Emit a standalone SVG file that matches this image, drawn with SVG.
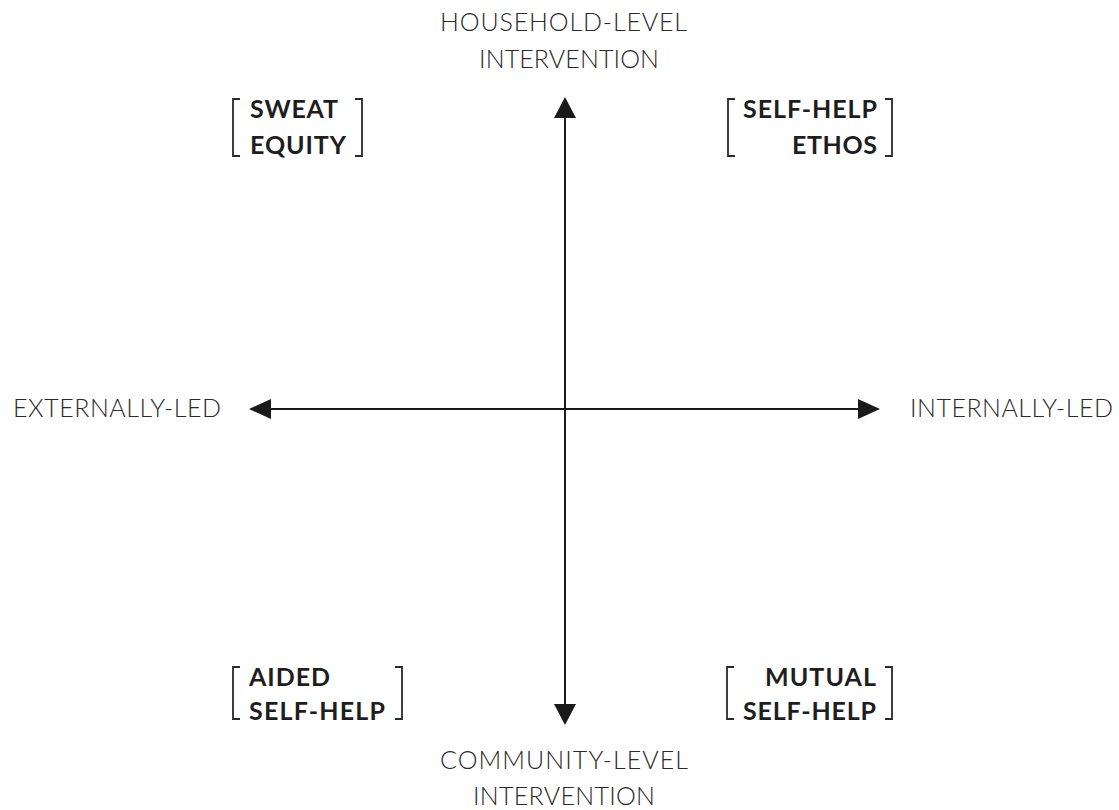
<svg xmlns="http://www.w3.org/2000/svg" width="1119" height="810" viewBox="0 0 1119 810">
  <style>
    .axis { stroke: #1a1a1a; stroke-width: 2; fill: none; }
    .head { fill: #1a1a1a; }
    .axis-label { font-family: Lato, "Open Sans", sans-serif; font-weight: 300; font-size: 25px; fill: #2a2a2a; }
    .quad { font-family: Lato, "Open Sans", sans-serif; font-weight: 700; font-size: 25px; fill: #1e1e1e; }
    .bracket { stroke: #2a2a2a; stroke-width: 1.8; fill: none; }
  </style>
  <rect width="1119" height="810" fill="#ffffff"/>

  <!-- connectors: the two axes with solid triangular heads -->
  <g id="axes">
    <line class="axis" x1="565" y1="117" x2="565" y2="704"/>
    <path class="head" d="M565,97 L554,118 L576,118 Z"/>
    <path class="head" d="M565,725 L554,704 L576,704 Z"/>
    <line class="axis" x1="271" y1="409" x2="858" y2="409"/>
    <path class="head" d="M249,409 L271,399 L271,419 Z"/>
    <path class="head" d="M880,409 L858,399 L858,419 Z"/>
  </g>

  <!-- axis end labels -->
  <g id="household">
    <text class="axis-label" x="440" y="31" textLength="247" lengthAdjust="spacing">HOUSEHOLD-LEVEL</text>
    <text class="axis-label" x="479" y="68" textLength="180" lengthAdjust="spacing">INTERVENTION</text>
  </g>
  <g id="community">
    <text class="axis-label" x="440" y="769" textLength="248" lengthAdjust="spacing">COMMUNITY-LEVEL</text>
    <text class="axis-label" x="473" y="805" textLength="182" lengthAdjust="spacing">INTERVENTION</text>
  </g>
  <g id="externally">
    <text class="axis-label" x="13" y="417" textLength="208" lengthAdjust="spacing">EXTERNALLY-LED</text>
  </g>
  <g id="internally">
    <text class="axis-label" x="910" y="417" textLength="203" lengthAdjust="spacing">INTERNALLY-LED</text>
  </g>

  <!-- quadrant labels in square brackets -->
  <g id="sweat-equity">
    <path class="bracket" d="M240,99 L233,99 L233,156 L240,156"/>
    <path class="bracket" d="M355,99 L362,99 L362,156 L355,156"/>
    <text class="quad" x="250" y="118" textLength="88" lengthAdjust="spacing">SWEAT</text>
    <text class="quad" x="250" y="154" textLength="96" lengthAdjust="spacing">EQUITY</text>
  </g>
  <g id="self-help-ethos">
    <path class="bracket" d="M735,99 L728,99 L728,156 L735,156"/>
    <path class="bracket" d="M885,99 L892,99 L892,156 L885,156"/>
    <text class="quad" x="743" y="118" textLength="134" lengthAdjust="spacing">SELF-HELP</text>
    <text class="quad" x="792" y="154" textLength="85" lengthAdjust="spacing">ETHOS</text>
  </g>
  <g id="aided-self-help">
    <path class="bracket" d="M240,667 L233,667 L233,719 L240,719"/>
    <path class="bracket" d="M395,667 L402,667 L402,719 L395,719"/>
    <text class="quad" x="249" y="686" textLength="81" lengthAdjust="spacing">AIDED</text>
    <text class="quad" x="249" y="720" textLength="136" lengthAdjust="spacing">SELF-HELP</text>
  </g>
  <g id="mutual-self-help">
    <path class="bracket" d="M734,667 L727,667 L727,719 L734,719"/>
    <path class="bracket" d="M885,667 L892,667 L892,719 L885,719"/>
    <text class="quad" x="765" y="686" textLength="111" lengthAdjust="spacing">MUTUAL</text>
    <text class="quad" x="743" y="720" textLength="133" lengthAdjust="spacing">SELF-HELP</text>
  </g>
</svg>
